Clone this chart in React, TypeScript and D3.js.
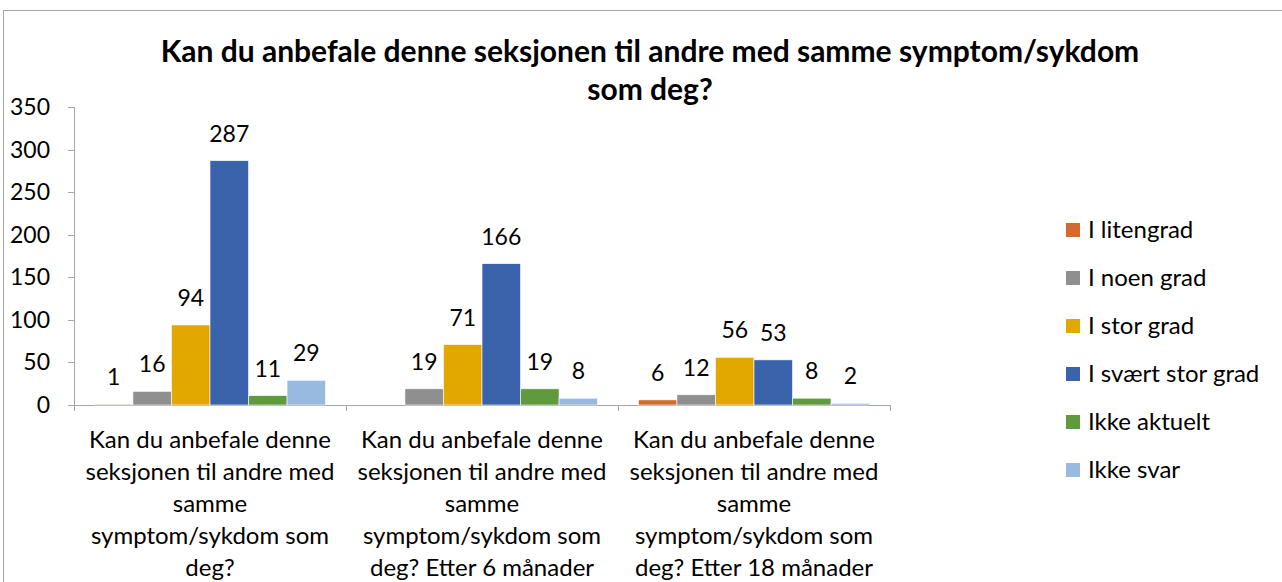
import React from "react";
import * as d3 from "d3";

const title = ["Kan du anbefale denne seksjonen til andre med samme symptom/sykdom", "som deg?"];
const categories = [
  ["Kan du anbefale denne", "seksjonen til andre med", "samme", "symptom/sykdom som", "deg?"],
  ["Kan du anbefale denne", "seksjonen til andre med", "samme", "symptom/sykdom som", "deg? Etter 6 månader"],
  ["Kan du anbefale denne", "seksjonen til andre med", "samme", "symptom/sykdom som", "deg? Etter 18 månader"],
];
const seriesNames = ["I litengrad", "I noen grad", "I stor grad", "I svært stor grad", "Ikke aktuelt", "Ikke svar"];
const seriesColors = ["#D46A2B", "#8F8F8F", "#E2A800", "#3B63AC", "#5F9A3F", "#98B9E0"];
const litenGrad: (number | null)[] = [1, null, 6];
const noenGrad = [16, 19, 12];
const storGrad = [94, 71, 56];
const svaertStorGrad = [287, 166, 53];
const ikkeAktuelt = [11, 19, 8];
const ikkeSvar = [29, 8, 2];
const yTicks = [0, 50, 100, 150, 200, 250, 300, 350];

const values = [litenGrad, noenGrad, storGrad, svaertStorGrad, ikkeAktuelt, ikkeSvar];

const FONT = "Lato, 'Open Sans', sans-serif";

export default function App() {
  const W = 1282, H = 582;
  const left = 74, right = 890, top = 107, bottom = 405;
  const y = d3.scaleLinear().domain([0, 350]).range([bottom, top]);
  const x0 = d3.scaleBand<number>().domain(d3.range(categories.length)).range([left, right]).paddingInner(0).paddingOuter(0);
  const x1 = d3.scaleBand<number>().domain(d3.range(seriesNames.length)).range([0, x0.bandwidth()]).paddingInner(0).paddingOuter(0.53);

  return (
    <svg width={W} height={H} style={{ position: "absolute", left: 0, top: 0, fontFamily: FONT }}>
      <rect x={0} y={0} width={W} height={H} fill="#fff" />
      <rect x={3.5} y={10.5} width={1300} height={600} fill="#fff" stroke="#A6A6A6" strokeWidth={1} />
      {title.map((t, i) => (
        <text key={i} x={650} y={62 + i * 38} textAnchor="middle" fontSize={30} fontWeight="bold" fill="#000">{t}</text>
      ))}
      {/* y axis */}
      <line x1={left + 0.5} x2={left + 0.5} y1={top} y2={bottom} stroke="#A6A6A6" />
      {yTicks.map((t) => (
        <g key={t}>
          <line x1={left - 6} x2={left} y1={Math.round(y(t)) + 0.5} y2={Math.round(y(t)) + 0.5} stroke="#A6A6A6" />
          <text x={50} y={y(t) + 8} textAnchor="end" fontSize={23} fill="#000">{t}</text>
        </g>
      ))}
      {/* x axis */}
      <line x1={left} x2={right} y1={bottom + 0.5} y2={bottom + 0.5} stroke="#A6A6A6" />
      {d3.range(categories.length + 1).map((i) => {
        const xx = Math.round(left + i * x0.bandwidth()) + 0.5;
        return <line key={i} x1={xx} x2={xx} y1={bottom} y2={bottom + 6} stroke="#A6A6A6" />;
      })}
      {categories.map((lines, ci) => (
        <text key={ci} textAnchor="middle" fontSize={24} fill="#000">
          {lines.map((l, li) => (
            <tspan key={li} x={(x0(ci) as number) + x0.bandwidth() / 2} y={448 + li * 32}>{l}</tspan>
          ))}
        </text>
      ))}
      {/* bars */}
      {categories.map((_, ci) =>
        seriesNames.map((_, si) => {
          const v = values[si][ci];
          if (v === null || v === undefined) return null;
          const bx = (x0(ci) as number) + (x1(si) as number);
          const bw = x1.bandwidth();
          return (
            <g key={`${ci}-${si}`}>
              <rect x={bx} y={y(v)} width={bw} height={bottom - y(v)} fill={seriesColors[si]} stroke="#fff" strokeWidth={0.6} />
              <text x={bx + bw / 2} y={y(v) - 19} textAnchor="middle" fontSize={23} fill="#000">{v}</text>
            </g>
          );
        })
      )}
      {/* legend */}
      {seriesNames.map((n, i) => (
        <g key={n} transform={`translate(1066, ${230 + i * 48})`}>
          <rect x={0} y={-7} width={14} height={14} fill={seriesColors[i]} />
          <text x={22} y={8} fontSize={24} fill="#000">{n}</text>
        </g>
      ))}
    </svg>
  );
}
